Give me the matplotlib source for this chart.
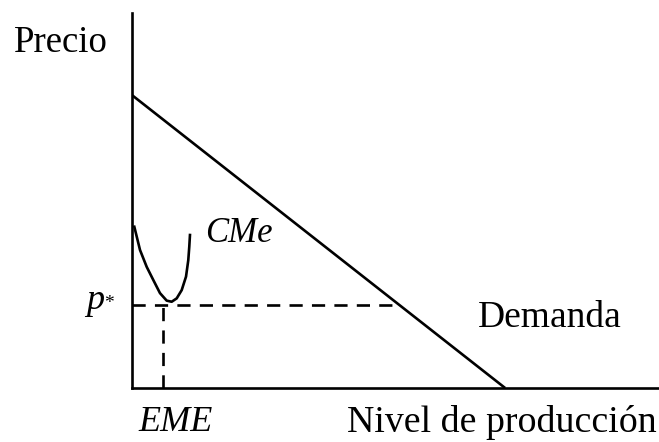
import numpy as np
import matplotlib
matplotlib.use("Agg")
import matplotlib.pyplot as plt

# ---------------------- Data ----------------------
# demand: straight line between the two intercepts
demanda_q = [0, 70.8]
demanda_p = [78.1, 0]

# average cost curve (CMe)
cme_q = [0.44, 1.52, 2.79, 4.04, 5.31, 6.58, 7.53, 8.48, 9.43, 10.25, 10.68, 10.87, 11.0]
cme_p = [43.0, 36.8, 32.3, 28.8, 25.3, 23.3, 23.0, 23.9, 26.1, 29.7, 34.1, 37.7, 40.8]

p_star = 22.1
q_eme = 5.95
q_cruce = 49.7   # where the p* dashed line ends at the demand

# ---------------------- Plot ----------------------
plt.rcParams['font.family'] = ['Liberation Serif', 'DejaVu Serif']

fig = plt.figure(figsize=(6.59, 4.42), dpi=100)
ax = fig.add_axes([132 / 659, 54 / 442, 527 / 659, 375 / 442])
ax.set_xlim(0, 100)
ax.set_ylim(0, 100)

for s in ['top', 'right']:
    ax.spines[s].set_visible(False)
for s in ['left', 'bottom']:
    ax.spines[s].set_linewidth(1.9)
ax.set_xticks([])
ax.set_yticks([])

ax.plot(demanda_q, demanda_p, color='black', lw=1.9, solid_capstyle='butt')
ax.plot(cme_q, cme_p, color='black', lw=1.9, solid_joinstyle='round')
ax.plot([0, q_cruce], [p_star, p_star], color='black', lw=1.9,
        dashes=(5, 3.5))
ax.plot([q_eme, q_eme], [0, p_star], color='black', lw=1.9,
        dashes=(5, 3.5))

def txt(x, y, s, size=26, **kw):
    # x, y in pixels from top-left, y is the baseline
    fig.text(x / 659, 1 - y / 442, s, fontsize=size,
             va='baseline', ha=kw.pop('ha', 'left'), **kw)

txt(14, 52, 'Precio', size=26.5)
txt(104, 309, 'p', ha='right', style='italic')
txt(104, 308, '*', size=14)
txt(205, 242, 'CMe', size=25, style='italic')
txt(478, 327, 'Demanda', size=27)
txt(138, 431, 'EME', style='italic')
txt(347, 432, 'Nivel de producción', size=27.3)

plt.savefig("out.png")
